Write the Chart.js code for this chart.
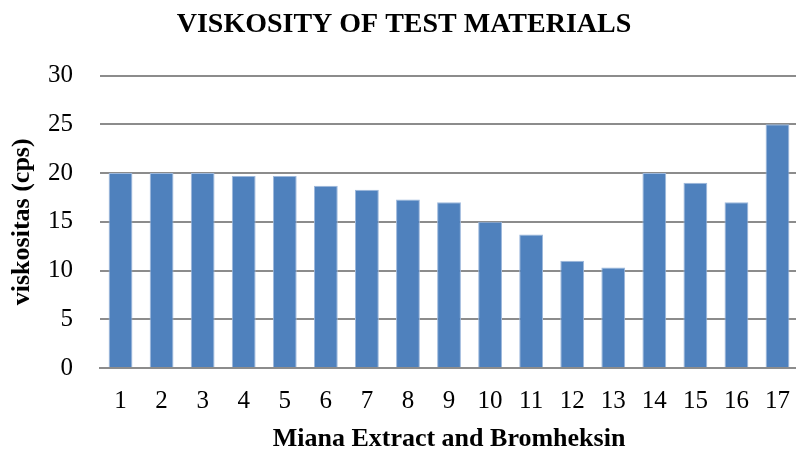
<!DOCTYPE html>
<html>
<head>
<meta charset="utf-8">
<script src="https://cdn.jsdelivr.net/npm/chart.js@4.4.0/dist/chart.umd.min.js"></script>
<style>
  html, body { margin: 0; padding: 0; background: #fff; overflow: hidden; }
  #wrap { position: relative; width: 808px; height: 452px; }
</style>
</head>
<body>
<div id="wrap"><canvas id="myChart"></canvas></div>
<script>
const labels = ['1','2','3','4','5','6','7','8','9','10','11','12','13','14','15','16','17'];
const viscosity = [20, 20, 20, 19.7, 19.7, 18.7, 18.3, 17.3, 17, 15, 13.7, 11, 10.3, 20, 19, 17, 25];
const yTicks = [0, 5, 10, 15, 20, 25, 30];

const serif = "'Liberation Serif', 'DejaVu Serif', serif";
const ctx = document.getElementById('myChart');

new Chart(ctx, {
  type: 'bar',
  data: {
    labels: labels,
    datasets: [{
      label: 'viskositas (cps)',
      data: viscosity,
      backgroundColor: '#4F81BD',
      borderColor: '#9DB8DC',
      borderWidth: 1,
      categoryPercentage: 1,
      barPercentage: 0.58
    }]
  },
  options: {
    responsive: true,
    maintainAspectRatio: false,
    animation: false,
    layout: { padding: 0 },
    plugins: {
      legend: { display: false },
      tooltip: { enabled: false },
      title: {
        display: true,
        text: 'VISKOSITY OF TEST MATERIALS',
        color: '#000',
        font: { family: serif, size: 28, weight: 'bold' },
        padding: { top: 8, bottom: 34 }
      }
    },
    scales: {
      x: {
        afterFit: function (axis) { axis.height = 84; },
        grid: { display: false, drawTicks: false },
        border: { display: true, color: '#8c8c8c', width: 2 },
        ticks: {
          color: '#000',
          font: { family: serif, size: 25 },
          padding: 18,
          maxRotation: 0,
          autoSkip: false
        },
        title: {
          display: true,
          text: 'Miana Extract and Bromheksin',
          color: '#000',
          font: { family: serif, size: 26, weight: 'bold' },
          padding: { top: 6, bottom: -3 }
        }
      },
      y: {
        min: 0,
        max: 30,
        afterBuildTicks: function (axis) {
          axis.ticks = yTicks.map(v => ({ value: v }));
        },
        afterFit: function (axis) { axis.width = 100; },
        grid: { color: '#8c8c8c', lineWidth: 2, drawTicks: false },
        border: { display: false },
        ticks: {
          color: '#000',
          font: { family: serif, size: 25 },
          padding: 27
        },
        title: {
          display: true,
          text: 'viskositas (cps)',
          color: '#000',
          font: { family: serif, size: 26, weight: 'bold' },
          padding: { top: 7, bottom: 8 }
        }
      }
    }
  }
});
</script>
</body>
</html>
